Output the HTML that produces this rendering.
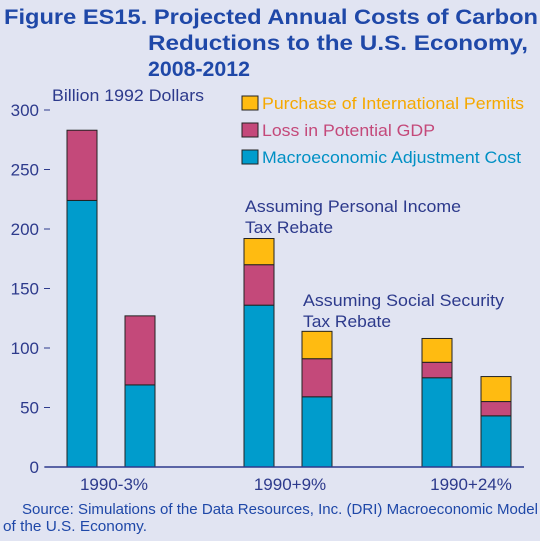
<!DOCTYPE html>
<html><head><meta charset="utf-8"><style>
body{margin:0;width:540px;height:541px;background:#e1e4f2;font-family:"Liberation Sans",sans-serif;overflow:hidden}
</style></head><body>
<svg width="540" height="541" style="position:absolute;left:0;top:0">
<g fill="#1f48a8" font-weight="bold" font-size="21">
<text x="4" y="24" textLength="534" lengthAdjust="spacingAndGlyphs">Figure ES15.  Projected Annual Costs of Carbon</text>
<text x="148" y="50" textLength="380" lengthAdjust="spacingAndGlyphs">Reductions to the U.S. Economy,</text>
<text x="148" y="76" textLength="102" lengthAdjust="spacingAndGlyphs">2008-2012</text>
</g>
<text x="52" y="101" font-size="17" fill="#2d3a8c" textLength="152" lengthAdjust="spacingAndGlyphs">Billion 1992 Dollars</text>
<g id="yaxis"></g>
<g id="bars"></g>
<g font-size="17" fill="#2d3a8c">
<text x="245" y="212" textLength="216" lengthAdjust="spacingAndGlyphs">Assuming Personal Income</text>
<text x="245" y="233" textLength="88" lengthAdjust="spacingAndGlyphs">Tax Rebate</text>
<text x="303" y="306" textLength="201" lengthAdjust="spacingAndGlyphs">Assuming Social Security</text>
<text x="303" y="327" textLength="88" lengthAdjust="spacingAndGlyphs">Tax Rebate</text>
</g>
<g font-size="17">
<rect x="242" y="96" width="16" height="14" fill="#ffbb11" stroke="#222" stroke-width="1"/>
<text x="262" y="109" fill="#f5a800" textLength="262" lengthAdjust="spacingAndGlyphs">Purchase of International Permits</text>
<rect x="242" y="123" width="16" height="14" fill="#c4497a" stroke="#222" stroke-width="1"/>
<text x="262" y="136" fill="#c4497a" textLength="173" lengthAdjust="spacingAndGlyphs">Loss in Potential GDP</text>
<rect x="242" y="150" width="16" height="14" fill="#009ccc" stroke="#222" stroke-width="1"/>
<text x="262" y="163" fill="#0090c4" textLength="259" lengthAdjust="spacingAndGlyphs">Macroeconomic Adjustment Cost</text>
</g>
<g font-size="17" fill="#2d3a8c" text-anchor="middle">
<text x="114" y="490">1990-3%</text>
<text x="290" y="490">1990+9%</text>
<text x="471" y="490">1990+24%</text>
</g>
<g font-size="14.5" fill="#1f48a8">
<text x="22" y="514" textLength="516" lengthAdjust="spacingAndGlyphs">Source: Simulations of the Data Resources, Inc. (DRI) Macroeconomic Model</text>
<text x="3" y="531" textLength="144" lengthAdjust="spacingAndGlyphs">of the U.S. Economy.</text>
</g>
</svg>
<script>
const categories=["1990-3% A","1990-3% B","1990+9% A","1990+9% B","1990+24% A","1990+24% B"];
const macro=[224,69,136,59,75,43];
const gdp=[59,58,34,32,13,12];
const permits=[0,0,22,23,20,21];
const ticks=[0,50,100,150,200,250,300];
const barX=[67,125,244,302,422,481];
const NS="http://www.w3.org/2000/svg";
function y(v){return 467-v*1.19;}
const ya=document.getElementById('yaxis');
ticks.forEach(t=>{
 const l=document.createElementNS(NS,'line');
 l.setAttribute('x1',44);l.setAttribute('x2',50);l.setAttribute('y1',y(t));l.setAttribute('y2',y(t));
 l.setAttribute('stroke','#2d3a8c');
 
 
 ya.appendChild(l);
 const tx=document.createElementNS(NS,'text');
 tx.setAttribute('x',39);tx.setAttribute('y',y(t)+6);tx.setAttribute('text-anchor','end');
 tx.setAttribute('font-size','17');tx.setAttribute('fill','#2d3a8c');tx.textContent=t;
 
 
 ya.appendChild(tx);
});
const bg=document.getElementById('bars');
const series=[[macro,'#009ccc','macro'],[gdp,'#c4497a','gdp'],[permits,'#ffbb11','permits']];
categories.forEach((c,i)=>{
 let base=0;
 series.forEach(([arr,col,nm])=>{
  const v=arr[i]; if(v<=0) return;
  const r=document.createElementNS(NS,'rect');
  r.setAttribute('x',barX[i]);r.setAttribute('width',30);
  r.setAttribute('y',y(base+v));r.setAttribute('height',y(base)-y(base+v));
  r.setAttribute('fill',col);r.setAttribute('stroke','#222');r.setAttribute('stroke-width','1');
  
  
  bg.appendChild(r);
  base+=v;
 });
});
const ax=document.createElementNS(NS,'line');
ax.setAttribute('x1',45);ax.setAttribute('x2',524);ax.setAttribute('y1',467);ax.setAttribute('y2',467);
ax.setAttribute('stroke','#2d3a8c');ax.setAttribute('stroke-width','1.5');


bg.appendChild(ax);
</script>
</body></html>
